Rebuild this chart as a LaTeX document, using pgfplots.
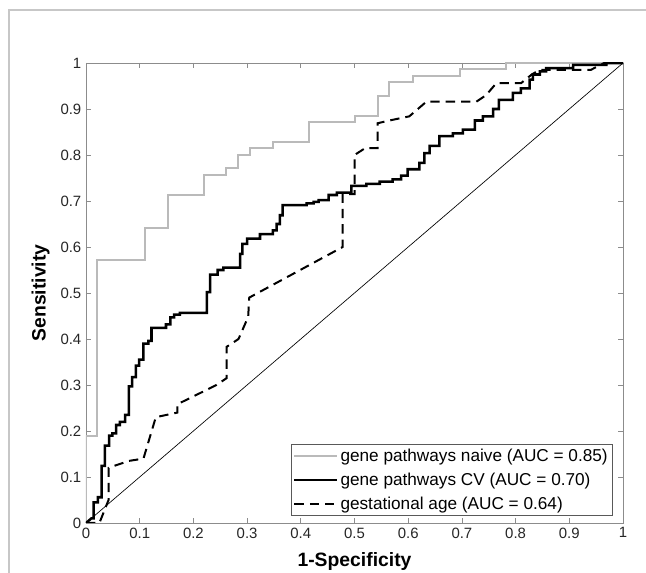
\documentclass[border=0pt]{standalone}
\usepackage{fontspec}
\setmainfont{Liberation Sans}
\usepackage{pgfplots}
\pgfplotsset{compat=1.18}

\begin{document}
\begin{tikzpicture}
  % picture frame 646 x 573 px, 1px = 0.75pt
  \useasboundingbox (0pt,0pt) rectangle (484.5pt,429.75pt);
  \draw[black!22, line width=0.9pt] (6.75pt,0pt) -- (6.75pt,422.25pt) -- (484.5pt,422.25pt);

  \begin{axis}[
    at={(64.5pt,37.5pt)}, anchor=south west,
    scale only axis,
    width=402.75pt, height=345pt,
    xmin=0, xmax=1, ymin=0, ymax=1,
    xtick={0,0.1,...,1}, ytick={0,0.1,...,1},
    xticklabels={0,0.1,0.2,0.3,0.4,0.5,0.6,0.7,0.8,0.9,1},
    yticklabels={0,0.1,0.2,0.3,0.4,0.5,0.6,0.7,0.8,0.9,1},
    tick align=inside, tick pos=both,
    major tick length=3.5pt,
    axis line style={black!45, line width=0.7pt},
    every tick/.style={black!45, line width=0.6pt},
    tick label style={font=\fontsize{11.2}{13}\selectfont, text=black!85},
    /pgf/number format/assume math mode=true,
    xlabel={1-Specificity},
    ylabel={Sensitivity},
    every axis x label/.style={at={(axis description cs:0.5,0)}, anchor=center,
      yshift=-29pt, font=\fontsize{14.5}{16}\selectfont\bfseries},
    every axis y label/.style={at={(axis description cs:0,0.5)}, anchor=center,
      rotate=90, yshift=34pt, font=\fontsize{14.5}{16}\selectfont\bfseries},
    legend style={at={(0.981,0.015)}, anchor=south east,
      draw=black!65, line width=0.6pt, inner sep=1.5pt,
      font=\fontsize{12.9}{15}\selectfont,
      row sep=3pt, cells={anchor=west}},
    legend image post style={xscale=1.85},
  ]

  % gene pathways naive
  \addplot[color=black!27, line width=1.5pt, line join=miter] coordinates {
    (0,0) (0,0.19) (0.021,0.19) (0.021,0.571) (0.109,0.571) (0.109,0.641)
    (0.152,0.641) (0.152,0.714) (0.219,0.714) (0.219,0.756) (0.261,0.756)
    (0.261,0.772) (0.283,0.772) (0.283,0.799) (0.306,0.799) (0.306,0.815)
    (0.349,0.815) (0.349,0.829) (0.415,0.829) (0.415,0.871) (0.501,0.871)
    (0.501,0.885) (0.543,0.885) (0.543,0.929) (0.565,0.929) (0.565,0.958)
    (0.609,0.958) (0.609,0.971) (0.697,0.971) (0.697,0.987) (0.783,0.987)
    (0.783,1) (1,1)
  };
  \addlegendentry{gene pathways naive (AUC = 0.85)}

  % gene pathways CV
  \addplot[color=black, line width=1.9pt, line join=miter] coordinates {
    (0,0) (0.01,0.01) (0.014,0.01) (0.014,0.045) (0.022,0.045) (0.022,0.056)
    (0.029,0.056) (0.029,0.124) (0.035,0.124) (0.035,0.168) (0.043,0.168)
    (0.043,0.19) (0.049,0.19) (0.049,0.195) (0.056,0.195) (0.056,0.213)
    (0.063,0.213) (0.063,0.22) (0.073,0.22) (0.073,0.235) (0.080,0.235)
    (0.080,0.297) (0.086,0.297) (0.086,0.317) (0.093,0.317) (0.093,0.342)
    (0.099,0.342) (0.099,0.355) (0.107,0.355) (0.107,0.39) (0.116,0.39)
    (0.116,0.396) (0.122,0.396) (0.122,0.424) (0.149,0.424) (0.149,0.432)
    (0.157,0.432) (0.157,0.447) (0.164,0.447) (0.164,0.453) (0.175,0.453)
    (0.175,0.457) (0.225,0.457) (0.225,0.502) (0.231,0.502) (0.231,0.54)
    (0.245,0.54) (0.245,0.55) (0.256,0.55) (0.256,0.555) (0.287,0.555)
    (0.287,0.585) (0.291,0.585) (0.291,0.607) (0.300,0.607) (0.300,0.618)
    (0.324,0.618) (0.324,0.628) (0.348,0.628) (0.348,0.636) (0.355,0.636)
    (0.355,0.65) (0.361,0.65) (0.361,0.669) (0.366,0.669) (0.366,0.691)
    (0.411,0.691) (0.411,0.695) (0.424,0.695) (0.424,0.698) (0.433,0.698)
    (0.433,0.702) (0.452,0.702) (0.452,0.713) (0.467,0.713) (0.467,0.718)
    (0.494,0.718) (0.494,0.733) (0.522,0.733) (0.522,0.737) (0.547,0.737)
    (0.547,0.742) (0.571,0.742) (0.571,0.747) (0.587,0.747) (0.587,0.755)
    (0.599,0.755) (0.599,0.769) (0.621,0.769) (0.621,0.783) (0.63,0.783)
    (0.63,0.804) (0.64,0.804) (0.64,0.82) (0.658,0.82) (0.658,0.841)
    (0.683,0.841) (0.683,0.847) (0.702,0.847) (0.702,0.855) (0.724,0.855)
    (0.724,0.875) (0.739,0.875) (0.739,0.884) (0.758,0.884) (0.758,0.9)
    (0.769,0.9) (0.769,0.92) (0.795,0.92) (0.795,0.935) (0.81,0.935)
    (0.81,0.945) (0.826,0.945) (0.826,0.964) (0.832,0.964) (0.832,0.975)
    (0.845,0.975) (0.845,0.982) (0.857,0.982) (0.857,0.989) (0.907,0.989)
    (0.907,0.996) (0.969,0.996) (0.969,1) (1,1)
  };
  \addlegendentry{gene pathways CV (AUC = 0.70)}

  % gestational age
  \addplot[color=black, line width=1.5pt, dash pattern=on 7pt off 4.5pt] coordinates {
    (0,0) (0.025,0) (0.042,0.05) (0.042,0.12) (0.08,0.135) (0.107,0.14)
    (0.13,0.23) (0.17,0.24) (0.17,0.258) (0.243,0.30) (0.262,0.315)
    (0.262,0.383) (0.284,0.40) (0.302,0.448) (0.304,0.49) (0.478,0.6)
    (0.478,0.715) (0.5,0.715) (0.5,0.8) (0.52,0.815) (0.543,0.815)
    (0.543,0.869) (0.565,0.875) (0.602,0.884) (0.634,0.916) (0.727,0.916)
    (0.745,0.93) (0.764,0.956) (0.81,0.956) (0.83,0.975) (0.845,0.985)
    (0.94,0.985) (0.965,1) (1,1)
  };
  \addlegendentry{gestational age (AUC = 0.64)}

  % chance line
  \addplot[color=black, line width=0.5pt, forget plot] coordinates {(0,0) (1,1)};

  \end{axis}
\end{tikzpicture}
\end{document}
